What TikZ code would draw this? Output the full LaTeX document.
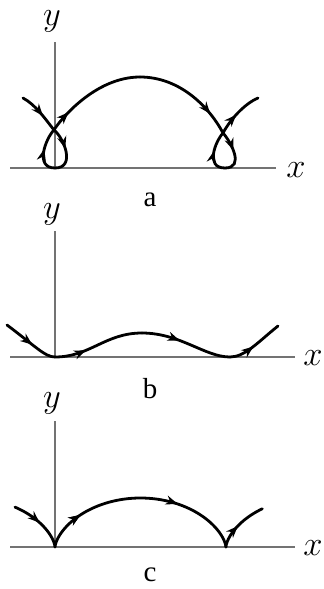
\documentclass[tikz,border=0pt]{standalone}
\usepackage{fontspec}
\setmainfont{Liberation Serif}
\usetikzlibrary{arrows.meta,decorations.markings}
\begin{document}
\begin{tikzpicture}[x=0.5pt,y=-0.5pt,
  axis/.style={draw=black!55,line width=0.6pt},
  traj/.style={draw=black,line width=1.4pt,line cap=round},
  arr/.style={postaction={decorate},decoration={markings,
     mark=at position #1 with {\arrow{Stealth[length=6pt,width=4.6pt]}}}},
  lab/.style={font=\fontsize{16}{18}\selectfont,inner sep=0pt},
  panellab/.style={font=\fontsize{14.5}{16}\selectfont,inner sep=0pt}]
\useasboundingbox (0,0) rectangle (324,589);
% ---------- panel a ----------
\coordinate (aO) at (55,168);
\coordinate (aY) at (55,42);
\coordinate (aX0) at (10,168);
\coordinate (aX1) at (276,168);
\draw[axis] (aO) -- (aY);
\draw[axis] (aX0) -- (aX1);
\node[lab] (ya) at (52,21) {$y$};
\node[lab] (xa) at (296,170) {$x$};
\node[panellab] (la) at (150,200) {a};
\coordinate (a1) at (23,98);
\coordinate (a2) at (54,130);
\coordinate (a3) at (55,168);
\coordinate (a4) at (140,77);
\coordinate (a5) at (223,133);
\coordinate (a6) at (225,168);
\coordinate (a7) at (258,98);
\draw[traj,arr=0.6] (a1) .. controls (36,105) and (46,120) .. (a2);
\draw[traj,arr=0.45] (a2) .. controls (64,138) and (76,168) .. (a3);
\draw[traj,arr=0.55] (a3) .. controls (34,168) and (46,138) .. (a2);
\draw[traj,arr=0.22] (a2) .. controls (60,120) and (95,77) .. (a4);
\draw[traj,arr=0.78] (a4) .. controls (182,77) and (211,110) .. (a5);
\draw[traj,arr=0.45] (a5) .. controls (231,142) and (245,168) .. (a6);
\draw[traj,arr=0.55] (a6) .. controls (205,168) and (215,142) .. (a5);
\draw[traj,arr=0.45] (a5) .. controls (230,120) and (244,104) .. (a7);
% ---------- panel b ----------
\coordinate (bO) at (55,357);
\coordinate (bY) at (55,231);
\coordinate (bX0) at (10,357);
\coordinate (bX1) at (295,357);
\draw[axis] (bO) -- (bY);
\draw[axis] (bX0) -- (bX1);
\node[lab] (yb) at (52,214) {$y$};
\node[lab] (xb) at (313,358) {$x$};
\node[panellab] (lb) at (150,389) {b};
\coordinate (b1) at (7,325);
\coordinate (b2) at (55,357);
\coordinate (b3) at (142,333);
\coordinate (b4) at (230,357);
\coordinate (b5) at (278,326);
\draw[traj,arr=0.55] (b1) .. controls (35,346) and (45,357) .. (b2);
\draw[traj,arr=0.35] (b2) .. controls (90,357) and (105,333) .. (b3);
\draw[traj,arr=0.42] (b3) .. controls (180,333) and (205,357) .. (b4);
\draw[traj,arr=0.45] (b4) .. controls (245,357) and (258,342) .. (b5);
% ---------- panel c ----------
\coordinate (cO) at (55,547);
\coordinate (cY) at (55,421);
\coordinate (cX0) at (10,547);
\coordinate (cX1) at (295,547);
\draw[axis] (cO) -- (cY);
\draw[axis] (cX0) -- (cX1);
\node[lab] (yc) at (52,403) {$y$};
\node[lab] (xc) at (313,548) {$x$};
\node[panellab] (lc) at (150,575) {c};
\draw[traj,arr=0.5] plot[domain=-2.25:0,samples=60,variable=\t]
  ({55+27.2*(\t-sin(\t r))},{547-24.5*(1-cos(\t r))});
\draw[traj,arr=0.2,postaction={decorate,decoration={markings,
     mark=at position 0.68 with {\arrow{Stealth[length=6pt,width=4.6pt]}}}}]
  plot[domain=0:6.2832,samples=120,variable=\t]
  ({55+27.2*(\t-sin(\t r))},{547-24.5*(1-cos(\t r))});
\draw[traj,arr=0.45] plot[domain=6.2832:8.45,samples=60,variable=\t]
  ({55+27.2*(\t-sin(\t r))},{547-24.5*(1-cos(\t r))});
\end{tikzpicture}
\end{document}
